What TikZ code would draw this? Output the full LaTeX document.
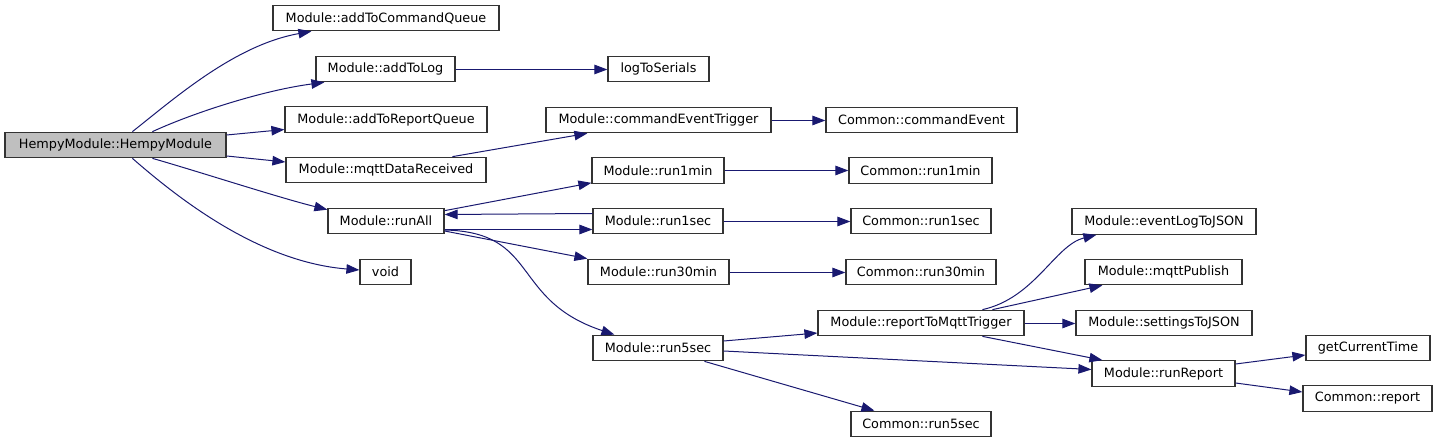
\documentclass[tikz,border=0pt]{standalone}
\usepackage{fontspec}
\setmainfont{DejaVu Sans}
\usetikzlibrary{arrows.meta,calc}
\definecolor{edgecol}{HTML}{191970}
\definecolor{boxcol}{HTML}{333333}
\definecolor{rootfill}{HTML}{BFBFBF}
\tikzset{
  fn/.style={draw=boxcol, line width=1.2pt, fill=white, minimum height=25.5pt, inner sep=0pt,
    font=\fontsize{12.8}{15}\selectfont, text=black},
  rootfn/.style={fn, fill=rootfill},
  call/.style={draw=edgecol, line width=1pt, -{Triangle[length=13pt,width=9.5pt]}, color=edgecol}
}
\begin{document}
\begin{tikzpicture}[x=1pt,y=-1pt]
\useasboundingbox (0,0) rectangle (1437,443);
% nodes
\node[rootfn, minimum width=221pt] (root) at (115.5,145) {HempyModule::HempyModule};
\node[fn, minimum width=226pt] (acq) at (386,18) {Module::addToCommandQueue};
\node[fn, minimum width=139pt] (atl) at (385.5,69) {Module::addToLog};
\node[fn, minimum width=101pt] (lts) at (658.5,69) {logToSerials};
\node[fn, minimum width=202pt] (arq) at (386,119.5) {Module::addToReportQueue};
\node[fn, minimum width=200pt] (mdr) at (386,170) {Module::mqttDataReceived};
\node[fn, minimum width=225pt] (cet) at (658.5,120) {Module::commandEventTrigger};
\node[fn, minimum width=191pt] (ce) at (921.5,120) {Common::commandEvent};
\node[fn, minimum width=132pt] (r1m) at (658,170.5) {Module::run1min};
\node[fn, minimum width=143pt] (cr1m) at (920.5,170.5) {Common::run1min};
\node[fn, minimum width=116pt] (ra) at (386,221) {Module::runAll};
\node[fn, minimum width=130pt] (r1s) at (658,221) {Module::run1sec};
\node[fn, minimum width=140pt] (cr1s) at (921,221) {Common::run1sec};
\node[fn, minimum width=51pt] (void) at (385.5,272) {void};
\node[fn, minimum width=141pt] (r30) at (658.5,272) {Module::run30min};
\node[fn, minimum width=150pt] (cr30) at (921,272) {Common::run30min};
\node[fn, minimum width=130pt] (r5) at (658,348) {Module::run5sec};
\node[fn, minimum width=206pt] (rtm) at (921,323) {Module::reportToMqttTrigger};
\node[fn, minimum width=140pt] (cr5) at (921,424) {Common::run5sec};
\node[fn, minimum width=184pt] (el) at (1164,221.5) {Module::eventLogToJSON};
\node[fn, minimum width=157pt] (mp) at (1163.5,272) {Module::mqttPublish};
\node[fn, minimum width=176pt] (st) at (1164,323) {Module::settingsToJSON};
\node[fn, minimum width=143pt] (rr) at (1163.5,373.5) {Module::runReport};
\node[fn, minimum width=124pt] (gct) at (1368,348) {getCurrentTime};
\node[fn, minimum width=129pt] (cr) at (1367.5,398.5) {Common::report};
% edges
\draw[call] ($(root.north west)+(128,0)$) .. controls (175,98) and (235,45) .. ($(acq.south west)+(39,0)$);
\draw[call] ($(root.north west)+(148,0)$) .. controls (195,112) and (265,90) .. ($(atl.south west)+(9,0)$);
\draw[call] ($(root.east)+(0,-10)$) -- ($(arq.west)+(0,10)$);
\draw[call] ($(root.east)+(0,11)$) -- ($(mdr.west)+(0,-8)$);
\draw[call] ($(root.south west)+(148,0)$) .. controls (200,172) and (280,198) .. ($(ra.north west)+(0,2)$);
\draw[call] ($(root.south west)+(128,0)$) .. controls (180,200) and (260,262) .. ($(void.west)+(0,-2)$);
\draw[call] ($(atl.east)+(0,0.5)$) -- ($(lts.west)+(0,0.5)$);
\draw[call] ($(mdr.north west)+(167,0)$) -- ($(cet.south west)+(42,0)$);
\draw[call] ($(cet.east)+(0,0.5)$) -- ($(ce.west)+(0,0.5)$);
\draw[call] ($(ra.north east)+(0,3)$) -- ($(r1m.south west)+(0,-1)$);
\draw[call] ($(r1s.west)+(0,-7.5)$) -- ($(ra.east)+(0,-6.5)$);
\draw[call] ($(ra.east)+(0,8.5)$) -- ($(r1s.west)+(0,8.5)$);
\draw[call] ($(ra.east)+(0,10)$) -- (r30.north west);
\draw[call] ($(ra.east)+(0,9)$) .. controls (540,232) and (510,300) .. ($(r5.north west)+(22,0)$);
\draw[call] (r1m.east) -- (cr1m.west);
\draw[call] ($(r1s.east)+(0,0.5)$) -- ($(cr1s.west)+(0,0.5)$);
\draw[call] ($(r30.east)+(0,0.5)$) -- ($(cr30.west)+(0,0.5)$);
\draw[call] ($(r5.east)+(0,-7)$) -- ($(rtm.west)+(0,10)$);
\draw[call] ($(r5.east)+(0,3)$) -- ($(rr.west)+(0,-4)$);
\draw[call] ($(r5.south west)+(112,0)$) -- ($(cr5.north west)+(24,0)$);
\draw[call] ($(rtm.north west)+(165,0)$) .. controls (1035,298) and (1055,245) .. ($(el.south west)+(25,0)$);
\draw[call] ($(rtm.north west)+(175,0)$) -- ($(mp.south west)+(18,0)$);
\draw[call] ($(rtm.east)+(0,0.5)$) -- ($(st.west)+(0,0.5)$);
\draw[call] ($(rtm.south west)+(165,0)$) -- ($(rr.north west)+(11,0)$);
\draw[call] ($(rr.east)+(0,-9.5)$) -- ($(gct.west)+(0,7)$);
\draw[call] ($(rr.east)+(0,9.5)$) -- ($(cr.west)+(0,-6.5)$);
\end{tikzpicture}
\end{document}
